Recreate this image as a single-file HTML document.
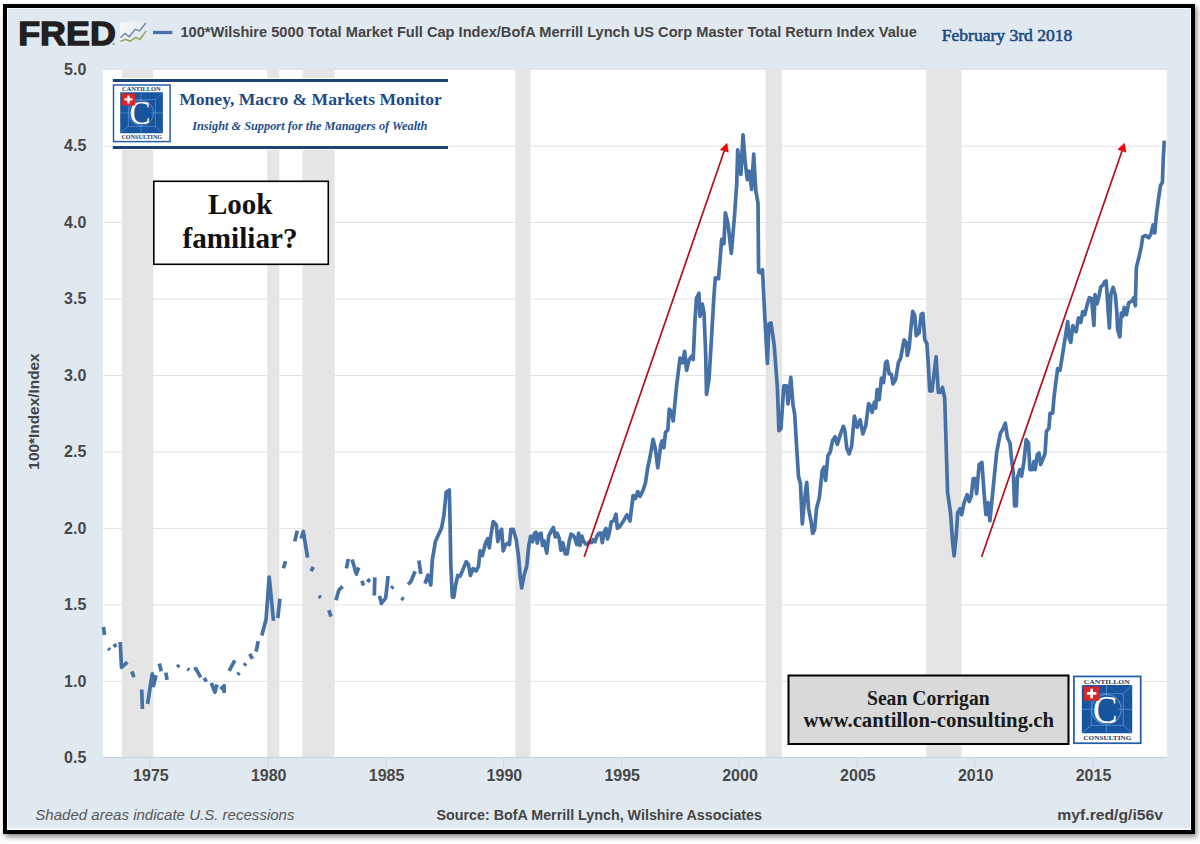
<!DOCTYPE html>
<html><head><meta charset="utf-8"><title>FRED chart</title>
<style>
html,body{margin:0;padding:0;background:#fff;width:1200px;height:844px;overflow:hidden;}
#frame{position:absolute;left:2.9px;top:3.6px;width:1192.5px;height:830.4px;box-sizing:border-box;border:4.7px solid #000;background:#e1e9f0;box-shadow:2px 3px 5px rgba(0,0,0,0.45);}
#inner{position:absolute;left:0;top:0;right:0;bottom:0;border:1.2px solid #f6f8fb;border-bottom-width:2px;}
svg{position:absolute;left:0;top:0;}
.ax text{font-family:"Liberation Sans",Arial,sans-serif;font-weight:bold;font-size:16px;fill:#484848;}
</style></head>
<body>
<div id="frame"><div id="inner"></div></div>
<svg width="1200" height="844" viewBox="0 0 1200 844">
  <!-- header -->
  <text x="18.2" y="45.4" font-family="Liberation Sans, Arial, sans-serif" font-weight="bold" font-size="32.5" fill="#231f20" stroke="#231f20" stroke-width="1.3" textLength="97.6" lengthAdjust="spacingAndGlyphs">FRED</text>
  <circle cx="113.6" cy="44" r="1" fill="#777"/>
  <defs>
    <linearGradient id="ig" x1="0" y1="0" x2="1" y2="1"><stop offset="0" stop-color="#f8f9fa"/><stop offset="1" stop-color="#dde2e6"/></linearGradient>
  </defs>
  <rect x="120" y="21.8" width="24.5" height="23.2" rx="1.5" fill="url(#ig)"/>
  <polyline points="120.4,37.8 125,33.4 129.2,36.8 135.4,29.3 139.6,30.9 145.8,23" fill="none" stroke="#7289a8" stroke-width="1.5"/>
  <polyline points="120.4,41.3 125.8,39.3 130,41.3 135.4,37.6 140,39.3 146.2,30.9" fill="none" stroke="#8ea862" stroke-width="1.5"/>
  <line x1="153" y1="32.5" x2="172.3" y2="32.5" stroke="#4572a7" stroke-width="3.3"/>
  <text x="180.4" y="37.3" font-family="Liberation Sans, Arial, sans-serif" font-weight="bold" font-size="14.5" fill="#444" textLength="736.5" lengthAdjust="spacingAndGlyphs">100*Wilshire 5000 Total Market Full Cap Index/BofA Merrill Lynch US Corp Master Total Return Index Value</text>
  <text x="941.8" y="40.6" font-family="Liberation Serif, serif" font-size="16.6" fill="#1a4a84" stroke="#1a4a84" stroke-width="0.55" textLength="130.5" lengthAdjust="spacingAndGlyphs">February 3rd 2018</text>
  <!-- plot -->
  <rect x="103" y="70" width="1064" height="687" fill="#fff"/>
  <g stroke="#e2e2e2" stroke-width="1"><line x1="103" y1="146.1" x2="1167" y2="146.1" /><line x1="103" y1="222.5" x2="1167" y2="222.5" /><line x1="103" y1="299.0" x2="1167" y2="299.0" /><line x1="103" y1="375.5" x2="1167" y2="375.5" /><line x1="103" y1="452.0" x2="1167" y2="452.0" /><line x1="103" y1="528.4" x2="1167" y2="528.4" /><line x1="103" y1="604.9" x2="1167" y2="604.9" /><line x1="103" y1="681.4" x2="1167" y2="681.4" /></g>
  <g fill="#e5e5e5"><rect x="121.8" y="70" width="31.5" height="687" /><rect x="267.2" y="70" width="12.1" height="687" /><rect x="302.4" y="70" width="32.3" height="687" /><rect x="515.3" y="70" width="15.2" height="687" /><rect x="765.7" y="70" width="16.3" height="687" /><rect x="926.2" y="70" width="35.3" height="687" /></g>
  <line x1="103" y1="69.2" x2="1167" y2="69.2" stroke="#dfe3e8" stroke-width="1.2"/>
  <line x1="103" y1="757.6" x2="1167" y2="757.6" stroke="#c9d2e2" stroke-width="1.2"/>
  <g stroke="#ccd6eb" stroke-width="1"><line x1="150.1" y1="757" x2="150.1" y2="767.5" /><line x1="267.9" y1="757" x2="267.9" y2="767.5" /><line x1="385.8" y1="757" x2="385.8" y2="767.5" /><line x1="503.6" y1="757" x2="503.6" y2="767.5" /><line x1="621.4" y1="757" x2="621.4" y2="767.5" /><line x1="739.2" y1="757" x2="739.2" y2="767.5" /><line x1="857.1" y1="757" x2="857.1" y2="767.5" /><line x1="974.9" y1="757" x2="974.9" y2="767.5" /><line x1="1092.7" y1="757" x2="1092.7" y2="767.5" /></g>
  <g class="ax"><text x="86.3" y="74.9" text-anchor="end">5.0</text><text x="86.3" y="151.4" text-anchor="end">4.5</text><text x="86.3" y="227.8" text-anchor="end">4.0</text><text x="86.3" y="304.3" text-anchor="end">3.5</text><text x="86.3" y="380.8" text-anchor="end">3.0</text><text x="86.3" y="457.3" text-anchor="end">2.5</text><text x="86.3" y="533.7" text-anchor="end">2.0</text><text x="86.3" y="610.2" text-anchor="end">1.5</text><text x="86.3" y="686.7" text-anchor="end">1.0</text><text x="86.3" y="763.1" text-anchor="end">0.5</text><text x="150.9" y="781" text-anchor="middle">1975</text><text x="268.7" y="781" text-anchor="middle">1980</text><text x="386.6" y="781" text-anchor="middle">1985</text><text x="504.4" y="781" text-anchor="middle">1990</text><text x="622.2" y="781" text-anchor="middle">1995</text><text x="740.0" y="781" text-anchor="middle">2000</text><text x="857.9" y="781" text-anchor="middle">2005</text><text x="975.7" y="781" text-anchor="middle">2010</text><text x="1093.5" y="781" text-anchor="middle">2015</text></g>
  <text transform="translate(39,411.5) rotate(-90)" text-anchor="middle" font-family="Liberation Sans, Arial, sans-serif" font-weight="bold" font-size="15" fill="#444" textLength="116.3" lengthAdjust="spacingAndGlyphs">100*Index/Index</text>
  <!-- series -->
  <g fill="none" stroke="#4571a6" stroke-width="3.7" stroke-linejoin="round" stroke-linecap="butt">
    <path d="M103.5 627.0 L104.5 635.0 M108.2 648.2 L110.0 650.0 M114.0 644.0 L116.0 647.0 M120.2 642.0 L121.5 667.4 L127.4 662.2 M131.9 671.3 L133.9 677.1 M141.7 689.5 L142.4 709.0 M147.6 703.9 L152.2 673.9 L153.5 685.6 L156.0 675.2 M159.3 663.5 L161.3 671.3 M165.8 672.6 L167.1 679.8 M177.2 667.0 L179.2 665.0 M187.4 668.7 L189.3 670.0 M193.9 669.3 L195.8 668.7 L200.7 677.3 M204.2 678.0 L206.4 681.6 M211.3 683.0 L214.9 692.2 L217.0 684.4 M220.6 689.4 L224.1 685.8 L224.1 693.0 M229.1 670.9 L234.8 660.3 M237.5 674.8 L239.5 672.8 M244.0 665.5 L246.0 663.5 M249.7 653.9 L252.5 658.8 M256.1 651.7 L258.2 641.1 M261.8 635.4 L266.0 619.8 L269.2 577.0 L273.5 620.9 M277.8 618.0 L279.9 598.8 M283.4 568.3 L285.6 561.2 M294.8 541.3 L297.2 530.7 M301.2 538.5 L303.3 531.4 L307.6 557.6 M311.1 571.1 L313.3 566.9 M318.8 595.8 L320.8 597.6 M328.9 610.2 L331.0 616.6 M336.0 600.3 L338.8 590.2 L342.6 586.4 M346.4 568.4 L348.3 559.0 M352.1 559.4 L356.3 574.1 L358.7 567.5 M362.0 580.8 L363.4 585.5 M367.2 579.3 L370.1 581.7 M374.8 577.4 L374.3 595.5 M379.5 595.9 L381.4 603.5 L385.7 597.8 L388.1 576.0 M391.3 588.4 L393.3 586.4 M401.4 597.8 L403.7 599.7 M408.0 584.5 L410.8 581.7 L415.1 571.3 M418.9 560.4 L420.8 574.1"/>
    <path d="M425.0 583.6 L427.9 575.1 L430.8 585.0 L432.3 560.1 L435.4 541.6 L441.6 527.8 L443.9 515.4 L446.2 492.3 L449.3 490.0 L450.0 518.5 L450.8 564.7 L452.3 597.1 L453.9 597.1 L455.4 586.3 L457.7 575.5 L460.0 576.3 L462.4 570.9 L466.2 561.7 L468.5 564.7 L470.4 575.5 L473.1 568.6 L476.2 570.9 L478.5 566.3 L480.1 550.9 L482.4 555.5 L485.5 543.2 L487.8 538.6 L489.3 547.8 L490.9 535.5 L493.2 521.6 L496.3 524.7 L497.8 541.6 L500.1 532.4 L501.6 529.3 L503.2 550.9 L505.5 544.7 L507.8 543.2 L509.4 544.7 L510.9 529.3 L513.2 529.3 L516.3 540.1 L518.6 557.0 L520.1 575.5 L521.7 587.9 L524.0 575.5 L526.3 567.8 L526.9 564.5 L528.8 545.5 L530.7 536.0 L532.6 541.7 L534.5 533.2 L535.9 532.2 L537.3 543.1 L539.2 534.1 L541.1 533.2 L542.5 545.5 L544.0 540.8 L546.8 553.1 L548.7 536.0 L551.1 531.3 L553.4 527.5 L555.3 537.0 L557.2 533.2 L559.1 537.9 L561.0 550.2 L562.9 542.7 L565.3 554.0 L567.2 554.0 L569.1 541.7 L571.0 534.1 L572.9 535.1 L574.8 537.9 L576.7 544.5 L578.6 533.2 L580.0 545.5 L581.9 536.0 L583.3 540.8 L585.2 543.6 L587.1 544.5 L589.5 541.7 L591.4 542.7 L593.2 539.8 L595.1 541.7 L597.0 536.0 L598.9 533.2 L600.8 533.2 L602.3 542.7 L604.1 532.2 L606.0 528.4 L607.5 538.9 L609.4 532.2 L611.3 521.8 L613.6 520.9 L616.0 514.2 L617.4 528.4 L619.8 526.5 L623.9 520.2 L626.9 514.8 L630.0 521.0 L633.1 495.5 L635.4 498.6 L637.7 491.7 L640.0 496.3 L643.1 490.1 L645.4 483.2 L647.7 467.8 L650.0 457.0 L653.1 439.3 L655.4 449.3 L657.8 467.8 L660.8 444.7 L662.4 440.8 L663.9 447.8 L665.5 432.4 L667.8 430.0 L669.3 409.2 L671.6 412.3 L673.2 421.0 L676.6 386.1 L680.0 358.0 L682.4 362.9 L684.6 351.3 L686.6 370.4 L689.1 359.6 L691.6 356.3 L693.2 359.6 L694.9 321.5 L696.5 298.2 L699.0 293.3 L699.9 316.5 L702.3 304.0 L704.0 313.2 L705.7 354.6 L706.5 394.4 L709.0 379.5 L711.5 338.0 L713.9 296.6 L715.3 277.8 L718.5 278.8 L721.7 239.4 L723.9 243.7 L725.4 212.8 L728.1 224.5 L731.3 253.3 L734.5 215.9 L736.7 184.0 L737.7 149.9 L740.9 174.4 L743.0 134.9 L745.2 162.6 L747.3 179.7 L749.4 171.2 L751.6 189.3 L753.7 154.1 L755.8 190.4 L758.0 203.2 L758.6 272.0 L761.0 273.0 L762.5 269.6 L764.6 313.3 L767.4 363.4 L768.9 324.0 L771.0 322.9 L774.2 345.3 L777.4 387.9 L778.9 430.6 L781.0 428.4 L783.8 385.8 L786.6 385.8 L788.0 403.9 L790.8 377.3 L793.0 405.0 L794.7 414.1 L796.6 446.3 L798.5 476.6 L800.4 483.2 L802.3 523.9 L804.2 503.1 L806.7 482.3 L808.6 508.8 L810.8 520.1 L812.7 533.4 L814.6 529.6 L816.5 508.8 L819.4 497.4 L822.2 470.9 L824.1 467.1 L825.6 480.4 L827.9 455.8 L830.2 452.0 L832.6 440.6 L835.1 436.8 L837.3 444.4 L840.8 433.0 L843.4 426.4 L844.9 431.1 L846.8 448.2 L849.1 453.9 L851.6 446.3 L854.4 416.0 L857.2 427.3 L860.1 419.8 L862.9 434.0 L865.8 425.5 L868.6 403.7 L870.0 405.3 L872.1 412.4 L874.3 402.4 L875.7 408.1 L877.1 389.6 L879.2 399.6 L881.4 378.2 L883.5 382.5 L885.6 362.6 L887.1 361.2 L889.2 374.0 L891.3 374.0 L893.0 383.9 L895.6 379.7 L898.4 362.6 L900.6 358.3 L902.7 346.9 L904.1 339.8 L906.3 342.7 L907.3 355.5 L909.1 348.4 L910.5 332.7 L912.7 311.4 L914.8 315.6 L916.2 335.6 L919.1 332.7 L921.2 314.2 L922.9 313.5 L924.8 339.8 L926.9 343.4 L928.3 364.0 L929.7 391.0 L931.9 391.0 L934.0 374.0 L936.1 356.9 L938.3 392.5 L940.4 392.5 L942.5 387.5 L944.7 398.2 L946.0 440.2 L947.6 492.6 L950.5 512.7 L952.5 540.8 L954.1 555.9 L956.1 536.8 L957.7 512.7 L960.1 508.7 L961.7 514.7 L964.1 502.6 L967.2 494.6 L969.2 501.6 L971.2 496.6 L973.2 478.5 L975.2 478.5 L976.6 493.6 L979.2 464.4 L981.9 462.4 L983.9 490.5 L985.9 514.7 L987.9 502.6 L989.9 520.7 L991.9 500.6 L993.9 480.5 L996.7 452.3 L1000.4 433.2 L1002.5 429.8 L1005.3 423.1 L1007.5 438.0 L1010.0 443.0 L1011.6 459.6 L1013.3 472.9 L1014.6 506.0 L1016.3 506.0 L1017.4 477.8 L1019.9 469.6 L1021.6 476.2 L1024.0 461.3 L1026.2 439.7 L1028.5 443.0 L1029.9 469.6 L1032.3 469.6 L1034.0 461.3 L1035.2 469.6 L1037.3 454.6 L1039.0 453.0 L1040.6 464.6 L1043.4 457.9 L1045.1 453.0 L1046.4 431.4 L1048.9 428.1 L1050.1 413.2 L1052.7 413.2 L1053.9 398.2 L1055.4 385.6 L1057.7 368.6 L1060.0 370.2 L1062.3 356.3 L1065.4 336.3 L1067.7 321.6 L1069.3 338.6 L1070.8 342.4 L1072.8 325.5 L1074.7 330.1 L1076.2 331.6 L1078.5 317.8 L1080.8 322.4 L1082.7 311.6 L1084.7 314.7 L1087.0 305.4 L1089.3 297.7 L1091.6 298.5 L1093.9 325.5 L1095.0 294.7 L1097.0 303.9 L1099.0 296.2 L1100.8 286.9 L1102.7 285.4 L1104.7 281.6 L1106.2 281.0 L1108.0 308.8 L1109.4 328.0 L1110.9 294.0 L1113.1 287.3 L1115.4 295.5 L1116.8 311.8 L1117.6 329.5 L1119.8 336.9 L1121.3 313.2 L1122.8 316.2 L1124.2 307.3 L1126.5 314.7 L1128.7 302.9 L1132.4 300.7 L1133.9 297.7 L1135.3 305.8 L1136.4 267.4 L1139.0 257.0 L1141.3 246.6 L1142.7 237.0 L1145.7 235.5 L1148.7 237.8 L1150.9 234.1 L1153.1 225.0 L1154.8 233.0 L1156.2 216.6 L1158.4 199.6 L1160.5 185.4 L1162.4 182.5 L1163.3 157.0 L1164.3 140.6"/>
  </g>
  <!-- arrows -->
  <g stroke="#b0101c" stroke-width="1.7" fill="none">
    <line x1="584.2" y1="557" x2="724.2" y2="151"/>
    <line x1="981.6" y1="557" x2="1122" y2="151"/>
  </g>
  <g fill="#ff0000" stroke="#c00010" stroke-width="0.5" stroke-linejoin="round">
    <polygon points="727,143.3 720.4,149.7 728.4,152.3"/>
    <polygon points="1124.4,143.3 1117.8,149.4 1126.1,152.3"/>
  </g>
  <!-- top banner -->
  <rect x="111.5" y="78" width="337.5" height="72" fill="#fff"/>
  <rect x="112.8" y="79" width="335.2" height="3" fill="#1c4373"/>
  <rect x="112.8" y="146" width="335.2" height="3" fill="#1c4373"/>
  <g transform="translate(112.8,84.3) scale(1.0)">
  <rect x="0.7" y="0.7" width="56.6" height="56.6" fill="#fff" stroke="#2460a8" stroke-width="1.5"/>
  <text x="28.5" y="6.9" text-anchor="middle" font-family="Liberation Serif, serif" font-weight="bold" font-size="6" fill="#22385e" textLength="38.8" lengthAdjust="spacingAndGlyphs">CANTILLON</text>
  <rect x="7.4" y="7.9" width="42.7" height="41" rx="0.8" fill="#17559e"/>
  <g stroke="#5f8fcf" stroke-width="0.7" fill="none">
    <rect x="15.4" y="15.4" width="27.1" height="26.7"/>
    <line x1="7.4" y1="7.9" x2="15.4" y2="15.4"/><line x1="50.1" y1="7.9" x2="42.5" y2="15.4"/>
    <line x1="7.4" y1="48.9" x2="15.4" y2="42.1"/><line x1="50.1" y1="48.9" x2="42.5" y2="42.1"/>
    <line x1="28.2" y1="7.9" x2="28.2" y2="48.9"/><line x1="7.4" y1="28.6" x2="50.1" y2="28.6"/>
    <circle cx="28.2" cy="28.6" r="12.6" stroke-width="0.9"/>
  </g>
  <circle cx="28.2" cy="28.6" r="10" fill="#17559e"/>
  <text x="27.2" y="40.2" text-anchor="middle" font-family="Liberation Serif, serif" font-size="34" fill="#fff" textLength="21" lengthAdjust="spacingAndGlyphs">C</text>
  <rect x="9.2" y="9.2" width="13" height="12" fill="#d8262c"/>
  <path d="M14.6 11.1h2.2v2.9h2.9v2.2h-2.9v2.9h-2.2v-2.9h-2.9v-2.2h2.9z" fill="#fff"/>
  <text x="29" y="54.6" text-anchor="middle" font-family="Liberation Serif, serif" font-weight="bold" font-size="6" fill="#22385e" textLength="40.7" lengthAdjust="spacingAndGlyphs">CONSULTING</text>
</g>
  <text x="179.2" y="105.4" font-family="Liberation Serif, serif" font-weight="bold" font-size="17.5" fill="#1c4c88" textLength="262.7" lengthAdjust="spacingAndGlyphs">Money, Macro &amp; Markets Monitor</text>
  <text x="192.2" y="130.3" font-family="Liberation Serif, serif" font-weight="bold" font-style="italic" font-size="11.5" fill="#1e4f8c" textLength="235.2" lengthAdjust="spacingAndGlyphs">Insight &amp; Support for the Managers of Wealth</text>
  <!-- look familiar -->
  <rect x="153.8" y="181.3" width="174.5" height="83" fill="#fff" stroke="#000" stroke-width="1.6"/>
  <text x="240.2" y="214.2" text-anchor="middle" font-family="Liberation Serif, serif" font-weight="bold" font-size="29.5" fill="#111" textLength="64.5" lengthAdjust="spacingAndGlyphs">Look</text>
  <text x="240" y="247.5" text-anchor="middle" font-family="Liberation Serif, serif" font-weight="bold" font-size="29.5" fill="#111" textLength="115" lengthAdjust="spacingAndGlyphs">familiar?</text>
  <!-- Sean box -->
  <rect x="788.5" y="675.5" width="280" height="68.5" fill="#d9d9d9" stroke="#000" stroke-width="2"/>
  <text x="928.3" y="704.5" text-anchor="middle" font-family="Liberation Serif, serif" font-weight="bold" font-size="20" fill="#1a1a1a" textLength="122.6" lengthAdjust="spacingAndGlyphs">Sean Corrigan</text>
  <text x="928.8" y="727.1" text-anchor="middle" font-family="Liberation Serif, serif" font-weight="bold" font-size="20" fill="#1a1a1a" textLength="250.4" lengthAdjust="spacingAndGlyphs">www.cantillon-consulting.ch</text>
  <g transform="translate(1073.1,675.6) scale(1.18)">
  <rect x="0.7" y="0.7" width="56.6" height="56.6" fill="#fff" stroke="#2460a8" stroke-width="1.5"/>
  <text x="28.5" y="6.9" text-anchor="middle" font-family="Liberation Serif, serif" font-weight="bold" font-size="6" fill="#22385e" textLength="38.8" lengthAdjust="spacingAndGlyphs">CANTILLON</text>
  <rect x="7.4" y="7.9" width="42.7" height="41" rx="0.8" fill="#17559e"/>
  <g stroke="#5f8fcf" stroke-width="0.7" fill="none">
    <rect x="15.4" y="15.4" width="27.1" height="26.7"/>
    <line x1="7.4" y1="7.9" x2="15.4" y2="15.4"/><line x1="50.1" y1="7.9" x2="42.5" y2="15.4"/>
    <line x1="7.4" y1="48.9" x2="15.4" y2="42.1"/><line x1="50.1" y1="48.9" x2="42.5" y2="42.1"/>
    <line x1="28.2" y1="7.9" x2="28.2" y2="48.9"/><line x1="7.4" y1="28.6" x2="50.1" y2="28.6"/>
    <circle cx="28.2" cy="28.6" r="12.6" stroke-width="0.9"/>
  </g>
  <circle cx="28.2" cy="28.6" r="10" fill="#17559e"/>
  <text x="27.2" y="40.2" text-anchor="middle" font-family="Liberation Serif, serif" font-size="34" fill="#fff" textLength="21" lengthAdjust="spacingAndGlyphs">C</text>
  <rect x="9.2" y="9.2" width="13" height="12" fill="#d8262c"/>
  <path d="M14.6 11.1h2.2v2.9h2.9v2.2h-2.9v2.9h-2.2v-2.9h-2.9v-2.2h2.9z" fill="#fff"/>
  <text x="29" y="54.6" text-anchor="middle" font-family="Liberation Serif, serif" font-weight="bold" font-size="6" fill="#22385e" textLength="40.7" lengthAdjust="spacingAndGlyphs">CONSULTING</text>
</g>
  <!-- footer -->
  <text x="35.3" y="819.8" font-family="Liberation Sans, Arial, sans-serif" font-style="italic" font-size="14" fill="#575757" textLength="259.2" lengthAdjust="spacingAndGlyphs">Shaded areas indicate U.S. recessions</text>
  <text x="436.5" y="820.4" font-family="Liberation Sans, Arial, sans-serif" font-weight="bold" font-size="14.6" fill="#444" textLength="325.5" lengthAdjust="spacingAndGlyphs">Source: BofA Merrill Lynch, Wilshire Associates</text>
  <text x="1057.3" y="819.8" font-family="Liberation Sans, Arial, sans-serif" font-weight="bold" font-size="14.6" fill="#444" textLength="105.8" lengthAdjust="spacingAndGlyphs">myf.red/g/i56v</text>
</svg>
</body></html>
